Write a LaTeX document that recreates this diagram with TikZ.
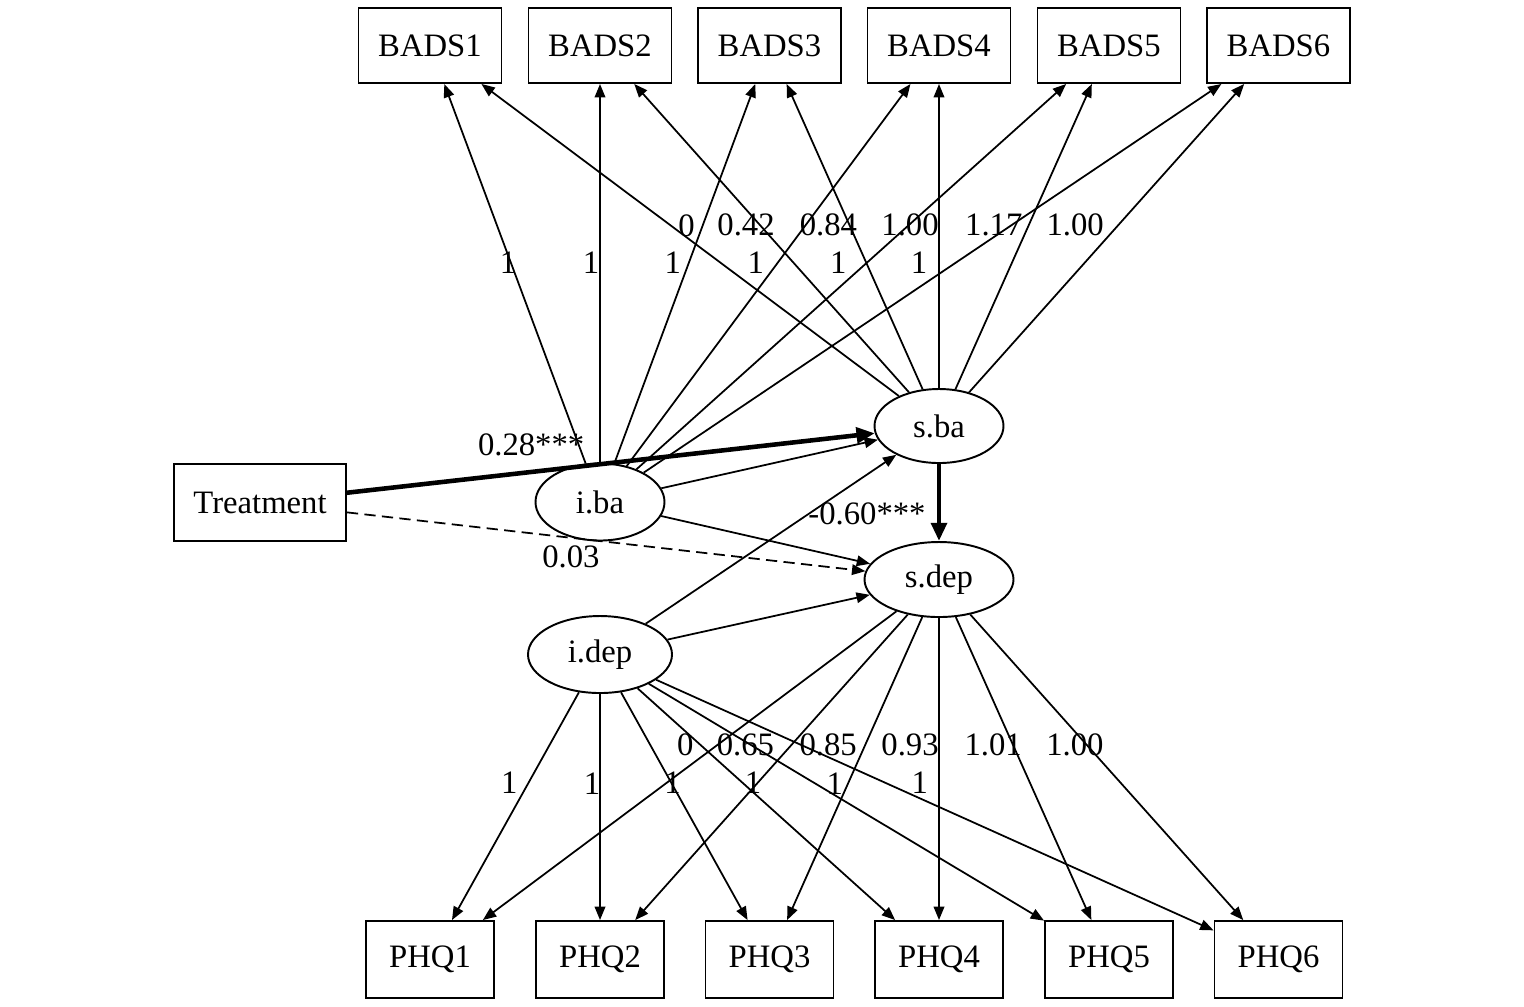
\documentclass[tikz,border=0pt]{standalone}
\usepackage{fontspec}
\setmainfont{Liberation Serif}
\usetikzlibrary{arrows.meta,shapes.geometric}

\begin{document}
\begin{tikzpicture}[
  obs/.style={draw,line width=0.55pt,inner sep=0pt,font=\fontsize{9.3}{11}\selectfont},
  lat/.style={draw,ellipse,line width=0.55pt,inner sep=0pt,font=\fontsize{9.3}{11}\selectfont},
  lbl/.style={inner sep=0pt,font=\fontsize{9.3}{11}\selectfont},
  path/.style={line width=0.5pt,-{Triangle[length=3.8pt,width=3pt]}},
  bigpath/.style={line width=1.3pt,-{Triangle[length=5.2pt,width=4.4pt]}}]

\useasboundingbox (0,0) rectangle (15.24,-10.06);

% indicators
\foreach \i/\x in {1/4.30,2/6.00,3/7.695,4/9.39,5/11.09,6/12.785}{
  \node[obs,minimum width=1.43cm,minimum height=0.75cm] (bads\i) at (\x,-0.455) {BADS\i};
  \node[obs,minimum width=1.28cm,minimum height=0.77cm] (phq\i) at (\x,-9.595) {PHQ\i};
}

\node[obs,minimum width=1.72cm,minimum height=0.77cm] (treat) at (2.60,-5.025) {Treatment};

% growth factors
\node[lat,minimum width=1.29cm,minimum height=0.77cm] (iba) at (6.00,-5.02) {i.ba};
\node[lat,minimum width=1.29cm,minimum height=0.74cm] (sba) at (9.39,-4.26) {s.ba};
\node[lat,minimum width=1.49cm,minimum height=0.75cm] (sdep) at (9.39,-5.795) {s.dep};
\node[lat,minimum width=1.44cm,minimum height=0.77cm] (idep) at (6.00,-6.545) {i.dep};

% loadings
\foreach \i/\p/\s in {1/0.528/-0.03,2/0.527/-0.09,3/0.528/-0.16,4/0.531/-0.215,5/0.535/-0.28,6/0.539/-0.36}
  {\draw[path] (iba) -- node[lbl,pos=\p,xshift=\s cm]{1} (bads\i);}
\foreach \i/\l/\p/\s in {1/0/0.547/0.16,2/0.42/0.542/-0.14,3/0.84/0.538/-0.21,4/1.00/0.536/-0.29,5/1.17/0.538/-0.35,6/1.00/0.542/-0.43}
  {\draw[path] (sba) -- node[lbl,pos=\p,xshift=\s cm]{\l} (bads\i);}
\foreach \i/\p/\s in {1/0.399/-0.19,2/0.395/-0.08,3/0.399/0.01,4/0.409/0.10,5/0.420/0.20,6/0.412/0.34}
  {\draw[path] (idep) -- node[lbl,pos=\p,xshift=\s cm]{1} (phq\i);}
\foreach \i/\l/\p/\s in {1/0/0.433/-0.32,2/0.65/0.427/-0.46,3/0.85/0.423/-0.37,4/0.93/0.421/-0.29,5/1.01/0.423/-0.20,6/1.00/0.427/-0.12}
  {\draw[path] (sdep) -- node[lbl,pos=\p,xshift=\s cm]{\l} (phq\i);}

% structural paths
\draw[bigpath] (treat) -- node[lbl,pos=0.349,yshift=0.27cm]{0.28***} (sba);
\draw[path,dash pattern=on 3.2pt off 1.8pt] (treat) -- node[lbl,pos=0.432,yshift=-0.19cm]{0.03} (sdep);
\draw[bigpath] (sba) -- node[lbl,pos=0.646,xshift=-0.72cm]{-0.60***} (sdep);
\draw[path] (iba) -- (sba);
\draw[path] (iba) -- (sdep);
\draw[path] (idep) -- (sba);
\draw[path] (idep) -- (sdep);
\end{tikzpicture}
\end{document}
